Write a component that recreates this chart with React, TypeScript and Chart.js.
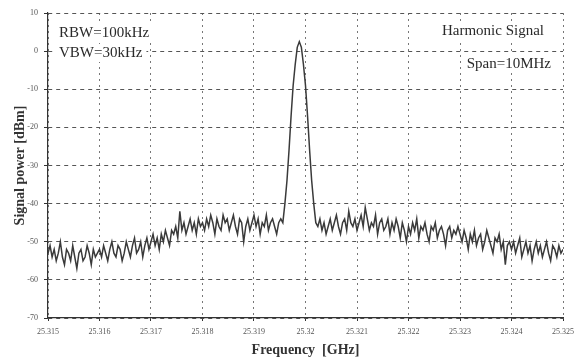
import React, { useEffect, useRef } from "react";
import { Chart, registerables } from "chart.js";

Chart.register(...registerables);

const startGHz = 25.315;
const stepGHz = 0.00004;

const xTicks = [25.315, 25.316, 25.317, 25.318, 25.319, 25.32, 25.321, 25.322, 25.323, 25.324, 25.325];
const yTicks = [10, 0, -10, -20, -30, -40, -50, -60, -70];

const seg1 = [-53, -51, -54, -52, -55, -53, -50, -54, -56, -52, -53, -55, -51, -54, -57, -53, -52, -55, -54, -51, -53, -56, -52, -54, -53];
const seg2 = [-52, -54, -51, -53, -55, -52, -50, -53, -54, -51, -52, -55, -53, -50, -52, -54, -51, -49, -53, -52, -50, -54, -51, -49, -52];
const seg3 = [-50, -48, -51, -49, -52, -48, -50, -47, -49, -51, -47, -48, -46, -49, -42, -47, -45, -48, -46, -44, -47, -45, -48, -44, -46];
const seg4 = [-45, -47, -44, -46, -43, -45, -48, -44, -46, -47, -43, -45, -44, -47, -45, -43, -46, -48, -44, -45, -50, -46, -44, -47, -45, -43, -46, -44, -48, -45, -46, -43, -47, -45, -44, -46, -48, -45, -44];
const peak = [-45, -40, -34, -26, -17, -9, -3.5, 1, 2.5, 1, -3.5, -9, -17, -26, -34, -40, -45];
const seg5 = [-46, -44, -47, -45, -48, -46, -44, -47, -45, -43, -46, -48, -45, -44, -47, -42, -45, -46, -44, -47, -45, -43, -46, -41, -44, -47, -45, -46, -43, -48, -45, -44, -47, -46, -44, -48, -45, -47, -44, -46, -49, -45, -47, -50];
const seg6 = [-46, -48, -45, -47, -44, -49, -46, -47, -45, -48, -50, -46, -47, -45, -49, -47, -46, -48, -51, -47, -46, -49, -47, -48, -46];
const seg7 = [-48, -50, -47, -49, -52, -48, -50, -47, -51, -49, -48, -52, -50, -47, -49, -51, -53, -49, -50, -48, -52, -50, -56, -51, -50];
const seg8 = [-52, -50, -53, -51, -49, -54, -52, -50, -53, -51, -55, -52, -50, -53, -51, -54, -52, -50, -53, -55, -51, -52, -54, -51, -53, -52];

const power = [...seg1, ...seg2, ...seg3, ...seg4, ...peak, ...seg5, ...seg6, ...seg7, ...seg8];

const annotLeft = ["RBW=100kHz", "VBW=30kHz"];
const annotRight = ["Harmonic Signal", "Span=10MHz"];

export default function App() {
  const ref = useRef<HTMLCanvasElement | null>(null);
  useEffect(() => {
    document.body.style.margin = "0";
    const canvas = ref.current;
    if (!canvas) return;
    const data = power.map((y, i) => ({ x: startGHz + i * stepGHz, y }));
    const textPlugin = {
      id: "annots",
      afterDatasetsDraw(chart: any) {
        const { ctx, chartArea } = chart;
        ctx.save();
        ctx.font = "15px 'Liberation Serif', 'DejaVu Serif', serif";
        ctx.textBaseline = "alphabetic";
        const items = [
          { t: annotLeft[0], x: chartArea.left + 11, y: chartArea.top + 24, a: "left" },
          { t: annotLeft[1], x: chartArea.left + 11, y: chartArea.top + 44, a: "left" },
          { t: annotRight[0], x: chartArea.right - 19, y: chartArea.top + 22, a: "right" },
          { t: annotRight[1], x: chartArea.right - 12, y: chartArea.top + 55, a: "right" },
        ];
        for (const it of items) {
          const w = ctx.measureText(it.t).width;
          const x0 = it.a === "left" ? it.x : it.x - w;
          ctx.fillStyle = "#ffffff";
          ctx.fillRect(x0 - 4, it.y - 13, w + 8, 18);
        }
        ctx.fillStyle = "#2a2a2a";
        for (const it of items) {
          ctx.textAlign = it.a;
          ctx.fillText(it.t, it.x, it.y);
        }
        ctx.restore();
      },
    };
    const tickFont = { family: "'Liberation Serif', 'DejaVu Serif', serif", size: 8 };
    const titleFont = { family: "'Liberation Serif', 'DejaVu Serif', serif", size: 14, weight: "bold" as const };
    const chart = new Chart(canvas, {
      type: "line",
      data: {
        datasets: [
          {
            data,
            borderColor: "#3a3a3a",
            borderWidth: 1.5,
            pointRadius: 0,
            tension: 0,
            fill: false,
          },
        ],
      },
      options: {
        animation: false,
        responsive: false,
        maintainAspectRatio: false,
        layout: { padding: { top: 13, right: 13, left: 0, bottom: 0 } },
        plugins: { legend: { display: false }, tooltip: { enabled: false } },
        scales: {
          x: {
            type: "linear",
            min: 25.315,
            max: 25.325,
            afterBuildTicks: (scale: any) => {
              scale.ticks = xTicks.map((v) => ({ value: v }));
            },
            afterFit: (scale: any) => {
              scale.height = 41;
            },
            ticks: {
              autoSkip: false,
              maxRotation: 0,
              color: "#555",
              font: tickFont,
              padding: 6,
              callback: (v: any) => String(parseFloat(Number(v).toFixed(3))),
            },
            grid: {
              color: "#777",
              lineWidth: 1,
              drawTicks: true,
              tickLength: 3,
              tickColor: "#333",
              tickBorderDash: [],
            },
            border: { display: true, color: "#333", width: 1.2, dash: [2, 4] },
            title: {
              display: true,
              text: "Frequency  [GHz]",
              color: "#333",
              font: titleFont,
              padding: { top: 0, bottom: 0 },
            },
          },
          y: {
            type: "linear",
            min: -70,
            max: 10,
            afterBuildTicks: (scale: any) => {
              scale.ticks = yTicks.map((v) => ({ value: v }));
            },
            afterFit: (scale: any) => {
              scale.width = 48;
            },
            ticks: {
              color: "#555",
              font: tickFont,
              padding: 6,
            },
            grid: {
              color: "#555",
              lineWidth: 1,
              drawTicks: true,
              tickLength: 4,
              tickColor: "#333",
              tickBorderDash: [],
            },
            border: { display: true, color: "#333", width: 1.2, dash: [4, 4] },
            title: {
              display: true,
              text: "Signal power [dBm]",
              color: "#333",
              font: titleFont,
              padding: { top: 12, bottom: 0 },
            },
          },
        },
      },
      plugins: [textPlugin],
    });
    return () => chart.destroy();
  }, []);
  return <canvas ref={ref} width={580} height={359} style={{ display: "block", width: 580, height: 359 }} />;
}
